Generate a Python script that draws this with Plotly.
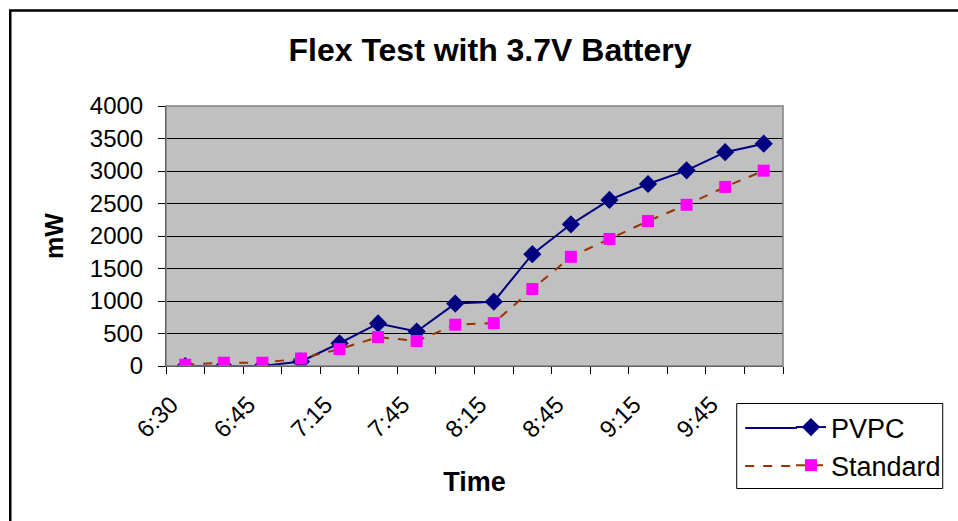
import plotly.graph_objects as go

# time categories (every other one is labelled on the axis)
times = ["6:30", "6:35", "6:45", "7:00", "7:15", "7:30", "7:45", "8:00",
         "8:15", "8:30", "8:45", "9:00", "9:15", "9:30", "9:45", "10:00"]
tick_labels = [t if i % 2 == 0 else "" for i, t in enumerate(times)]

pvpc = [0, 0, 0, 70, 350, 655, 530, 960, 990, 1720, 2180, 2555, 2800, 3010, 3290, 3420]
standard = [20, 50, 50, 115, 260, 445, 385, 635, 660, 1185, 1680, 1955, 2230, 2480, 2755, 3005]

font = "Arial, Liberation Sans, sans-serif"

# plot area in pixels: x 166..786, y 106..366
L, R, T, B = 166, 172, 106, 155
W, H = 958, 521
pw, ph = W - L - R, H - T - B

def px(x):
    return (x - L) / pw

def py(y):
    return (H - B - y) / ph

fig = go.Figure()
fig.add_trace(go.Scatter(
    x=times, y=pvpc, name="PVPC", mode="lines+markers",
    line=dict(color="#000080", width=2),
    marker=dict(symbol="diamond", size=14, color="#000080"),
))
fig.add_trace(go.Scatter(
    x=times, y=standard, name="Standard", mode="lines+markers",
    line=dict(color="#993300", width=2, dash="dash"),
    marker=dict(symbol="square", size=12, color="#FF00FF"),
))

# legend box drawn as a shape, legend entries sit inside it
row1, row2 = 428, 466
shapes = [
    # plot area border
    dict(type="rect", xref="paper", yref="paper", x0=0, x1=1, y0=0, y1=1,
         line=dict(color="#808080", width=1.5)),
    # chart border (cropped at right and bottom)
    dict(type="rect", xref="paper", yref="paper",
         x0=px(9.5), x1=px(975), y0=py(535), y1=py(10.5),
         line=dict(color="black", width=2.5)),
    # legend box
    dict(type="rect", xref="paper", yref="paper",
         x0=px(739.5), x1=px(946.5), y0=py(488.5), y1=py(403.5),
         fillcolor="white", line=dict(color="black", width=1), layer="above"),
    # longer legend line samples
    dict(type="line", xref="paper", yref="paper", x0=px(748), x1=px(800),
         y0=py(row1), y1=py(row1), line=dict(color="#000080", width=2), layer="above"),
    dict(type="line", xref="paper", yref="paper", x0=px(748), x1=px(800),
         y0=py(row2), y1=py(row2), line=dict(color="#993300", width=2, dash="dash"),
         layer="above"),
]

fig.update_layout(
    width=W, height=H,
    margin=dict(l=L, r=R, t=T, b=B),
    paper_bgcolor="white",
    plot_bgcolor="#C0C0C0",
    font=dict(family=font, size=24, color="black"),
    title=dict(text="<b>Flex Test with 3.7V Battery</b>", x=490 / W, xanchor="center",
               y=1 - 50 / H, yanchor="middle", font=dict(size=32)),
    xaxis=dict(
        type="category",
        tickmode="array", tickvals=times, ticktext=tick_labels,
        tickson="boundaries", ticks="outside", ticklen=7, tickcolor="black",
        tickangle=-45, tickfont=dict(size=24),
        ticklabelstandoff=14, ticklabelshift=-14,
        showgrid=False, showline=True, linecolor="black", linewidth=1,
        title=dict(text="<b>Time</b>", font=dict(size=27), standoff=30),
        range=[-0.5, 15.5],
    ),
    yaxis=dict(
        range=[0, 4000], dtick=500,
        ticks="outside", ticklen=7, tickcolor="black",
        tickfont=dict(size=24), ticklabelstandoff=10,
        showgrid=True, gridcolor="black", gridwidth=1,
        showline=True, linecolor="black", linewidth=1,
        zeroline=False,
        title=dict(text="<b>mW</b>", font=dict(size=25), standoff=19),
    ),
    legend=dict(
        x=px(794), y=py(row1 - 25), xanchor="left", yanchor="top",
        bgcolor="rgba(0,0,0,0)", borderwidth=0,
        font=dict(size=27), tracegroupgap=0,
    ),
    shapes=shapes,
)

fig.write_html("out.html", config={"displayModeBar": False},
               post_script="document.body.style.margin='0';")
